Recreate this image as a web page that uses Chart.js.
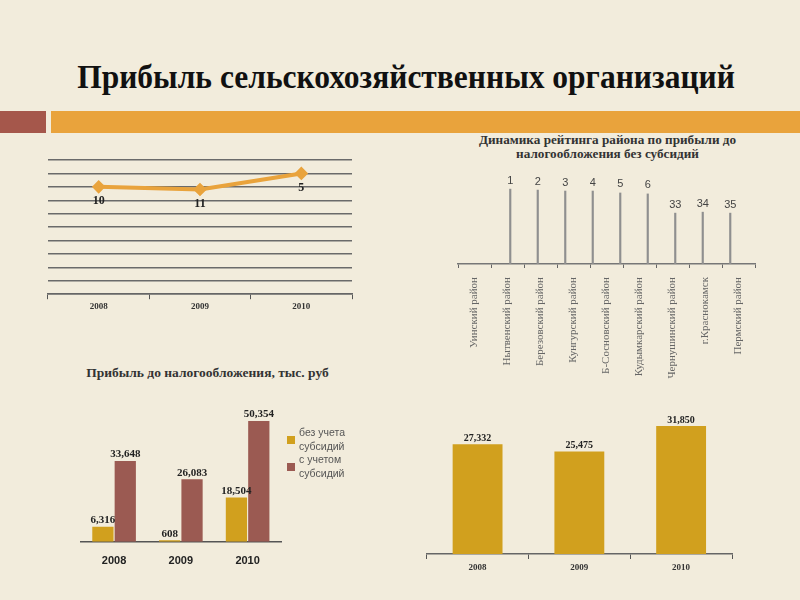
<!DOCTYPE html>
<html lang="ru">
<head>
<meta charset="utf-8">
<title>Прибыль сельскохозяйственных организаций</title>
<script src="https://cdn.jsdelivr.net/npm/chart.js@4.4.0/dist/chart.umd.min.js"></script>
<style>
  html, body { margin: 0; padding: 0; }
  body { width: 800px; height: 600px; background: #F2ECDC; position: relative; overflow: hidden; font-family: "Liberation Serif", serif; }
  .abs { position: absolute; }
  #mainTitle { left: 0; width: 812px; top: 59px; text-align: center; font-weight: bold; font-size: 31.5px; color: #111; transform: scaleY(1.1); }
  #barLeft { left: 0; top: 111px; width: 46px; height: 22px; background: #A5574B; }
  #barRight { left: 51px; top: 111px; width: 749px; height: 22px; background: #E9A33C; }
  .ctitle { font-weight: bold; color: #333; text-align: center; }
  #ratingTitle { left: 450px; width: 315px; top: 133px; font-size: 13.2px; line-height: 14px; }
  #profitTitle { left: 70px; width: 275px; top: 365px; font-size: 13.5px; }
  canvas { position: absolute; }
  #legend { left: 287px; top: 426px; width: 70px; font-family: "Liberation Sans", sans-serif; font-size: 10.5px; color: #555; line-height: 13.5px; }
  .item { display: flex; align-items: center; }
  .box { width: 8px; height: 8px; margin-right: 4px; flex: none; }
</style>
</head>
<body>
<div id="mainTitle" class="abs">Прибыль сельскохозяйственных организаций</div>
<div id="barLeft" class="abs"></div>
<div id="barRight" class="abs"></div>

<canvas id="rankChart" width="320" height="172" style="left:40px; top:150px;"></canvas>

<div id="ratingTitle" class="abs ctitle">Динамика рейтинга района по прибыли до<br>налогообложения без субсидий</div>
<canvas id="ratingChart" width="315" height="255" style="left:450px; top:137px;"></canvas>

<div id="profitTitle" class="abs ctitle">Прибыль до налогообложения, тыс. руб</div>
<canvas id="profitChart" width="215" height="188" style="left:75px; top:390px;"></canvas>
<div id="legend" class="abs"></div>

<canvas id="totalChart" width="320" height="178" style="left:420px; top:405px;"></canvas>

<script>
// годы
const years = ['2008', '2009', '2010'];

// место района в рейтинге по годам
const rankPlace = [10, 11, 5];

// прибыль до налогообложения, тыс. руб
const profitNoSubsidy = [6316, 608, 18504];
const profitWithSubsidy = [33648, 26083, 50354];
const subsidyLabels = ['без учета субсидий', 'с учетом субсидий'];

// правая нижняя диаграмма
const profitTotal = [27332, 25475, 31850];

// рейтинг районов
const districts = ['Уинский район', 'Нытвенский район', 'Березовский район', 'Кунгурский район',
    'Б-Сосновский район', 'Кудымкарский район', 'Чернушинский район', 'г.Краснокамск', 'Пермский район'];
const districtPlace = ['1', '2', '3', '4', '5', '6', '33', '34', '35'];
const districtBar = [78, 77, 76, 76, 74, 73, 53, 54, 53];

const colorGold = '#D1A01E';
const colorBrown = '#9B5A52';
const colorOrange = '#E9A33C';

// подписи значений над/под точками
const valueLabels = {
    id: 'valueLabels',
    afterDatasetsDraw(chart, args, opts) {
        const ctx = chart.ctx;
        ctx.save();
        ctx.font = opts.font;
        ctx.fillStyle = opts.color;
        ctx.textAlign = 'center';
        chart.data.datasets.forEach((ds, i) => {
            const meta = chart.getDatasetMeta(i);
            meta.data.forEach((el, j) => {
                const text = ds.valueText ? ds.valueText[j] : Number(ds.data[j]).toLocaleString('en-US');
                if (opts.below) {
                    ctx.textBaseline = 'top';
                    ctx.fillText(text, el.x, el.y + opts.offset);
                } else {
                    ctx.textBaseline = 'bottom';
                    ctx.fillText(text, el.x, el.y - opts.offset);
                }
            });
        });
        ctx.restore();
    }
};

const serifBold = (size) => ({ family: 'Liberation Serif', size: size, weight: 'bold' });

// 1. место в рейтинге (линия)
new Chart(document.getElementById('rankChart'), {
    type: 'line',
    data: {
        labels: years,
        datasets: [{
            data: rankPlace,
            borderColor: colorOrange,
            backgroundColor: colorOrange,
            borderWidth: 4,
            pointStyle: 'rectRot',
            pointRadius: 4,
            tension: 0
        }]
    },
    options: {
        responsive: false,
        animation: false,
        layout: { padding: { left: 6.7, right: 8, top: 10, bottom: 8 } },
        plugins: {
            legend: { display: false },
            tooltip: { enabled: false },
            valueLabels: { font: 'bold 12px "Liberation Serif"', color: '#222', offset: 8, below: true }
        },
        scales: {
            x: {
                offset: true,
                grid: { offset: true, drawOnChartArea: false, tickLength: 5, color: '#555' },
                border: { color: '#666', width: 1.5 },
                ticks: { font: serifBold(9), color: '#333', padding: 2 }
            },
            y: {
                reverse: true,
                min: 0,
                max: 50,
                ticks: { stepSize: 5, display: false },
                grid: { color: '#6a6a6a', lineWidth: 1.5, drawTicks: false },
                border: { display: false }
            }
        }
    },
    plugins: [valueLabels]
});

// 2. рейтинг районов
new Chart(document.getElementById('ratingChart'), {
    type: 'bar',
    data: {
        labels: districts,
        datasets: [{
            xAxisID: 'xl',
            data: districtBar.map((v, i) => ({ x: i + 1, y: v })),
            valueText: districtPlace,
            backgroundColor: '#8f8f8f',
            barThickness: 1.5
        }]
    },
    options: {
        responsive: false,
        animation: false,
        layout: { padding: { left: 8, right: 10, top: 7, bottom: 8 } },
        plugins: {
            legend: { display: false },
            tooltip: { enabled: false },
            valueLabels: { font: '11px "Liberation Sans"', color: '#444', offset: 3 }
        },
        scales: {
            x: {
                offset: true,
                grid: { offset: true, drawOnChartArea: false, tickLength: 4, color: '#666' },
                border: { color: '#777', width: 1.5 },
                ticks: { autoSkip: false, minRotation: 90, maxRotation: 90, font: { family: 'Liberation Serif', size: 11 }, color: '#666', padding: 9 }
            },
            xl: { type: 'linear', min: 0, max: 9, display: false },
            y: { min: 0, max: 125, display: false }
        }
    },
    plugins: [valueLabels]
});

// 3. прибыль без учета / с учетом субсидий
new Chart(document.getElementById('profitChart'), {
    type: 'bar',
    data: {
        labels: years,
        datasets: [
            { label: subsidyLabels[0], data: profitNoSubsidy, backgroundColor: colorGold },
            { label: subsidyLabels[1], data: profitWithSubsidy, backgroundColor: colorBrown }
        ]
    },
    options: {
        responsive: false,
        animation: false,
        categoryPercentage: 0.67,
        barPercentage: 0.95,
        layout: { padding: { left: 5.7, right: 9, top: 7.9, bottom: 5 } },
        plugins: {
            legend: { display: false },
            tooltip: { enabled: false },
            valueLabels: { font: 'bold 11px "Liberation Serif"', color: '#222', offset: 1 }
        },
        scales: {
            x: {
                grid: { display: false },
                border: { color: '#555', width: 1.5 },
                ticks: { font: { family: 'Liberation Sans', size: 11, weight: 'bold' }, color: '#222', padding: 5 }
            },
            y: { min: 0, max: 60000, display: false }
        }
    },
    plugins: [valueLabels]
});

// легенда
const legend = document.getElementById('legend');
[colorGold, colorBrown].forEach((c, i) => {
    const item = document.createElement('div');
    item.className = 'item';
    item.innerHTML = `<span class="box" style="background:${c}"></span><span>${subsidyLabels[i]}</span>`;
    legend.appendChild(item);
});

// 4. правая нижняя диаграмма
new Chart(document.getElementById('totalChart'), {
    type: 'bar',
    data: {
        labels: years,
        datasets: [{ data: profitTotal, backgroundColor: colorGold }]
    },
    options: {
        responsive: false,
        animation: false,
        categoryPercentage: 1,
        barPercentage: 0.49,
        layout: { padding: { left: 6.7, right: 8, top: 8.3, bottom: 7.2 } },
        plugins: {
            legend: { display: false },
            tooltip: { enabled: false },
            valueLabels: { font: 'bold 10px "Liberation Serif"', color: '#222', offset: 1 }
        },
        scales: {
            x: {
                grid: { offset: true, drawOnChartArea: false, tickLength: 5, color: '#555' },
                border: { color: '#666', width: 1.5 },
                ticks: { font: serifBold(9), color: '#333', padding: 3 }
            },
            y: { min: 0, max: 35000, display: false }
        }
    },
    plugins: [valueLabels]
});
</script>
</body>
</html>
